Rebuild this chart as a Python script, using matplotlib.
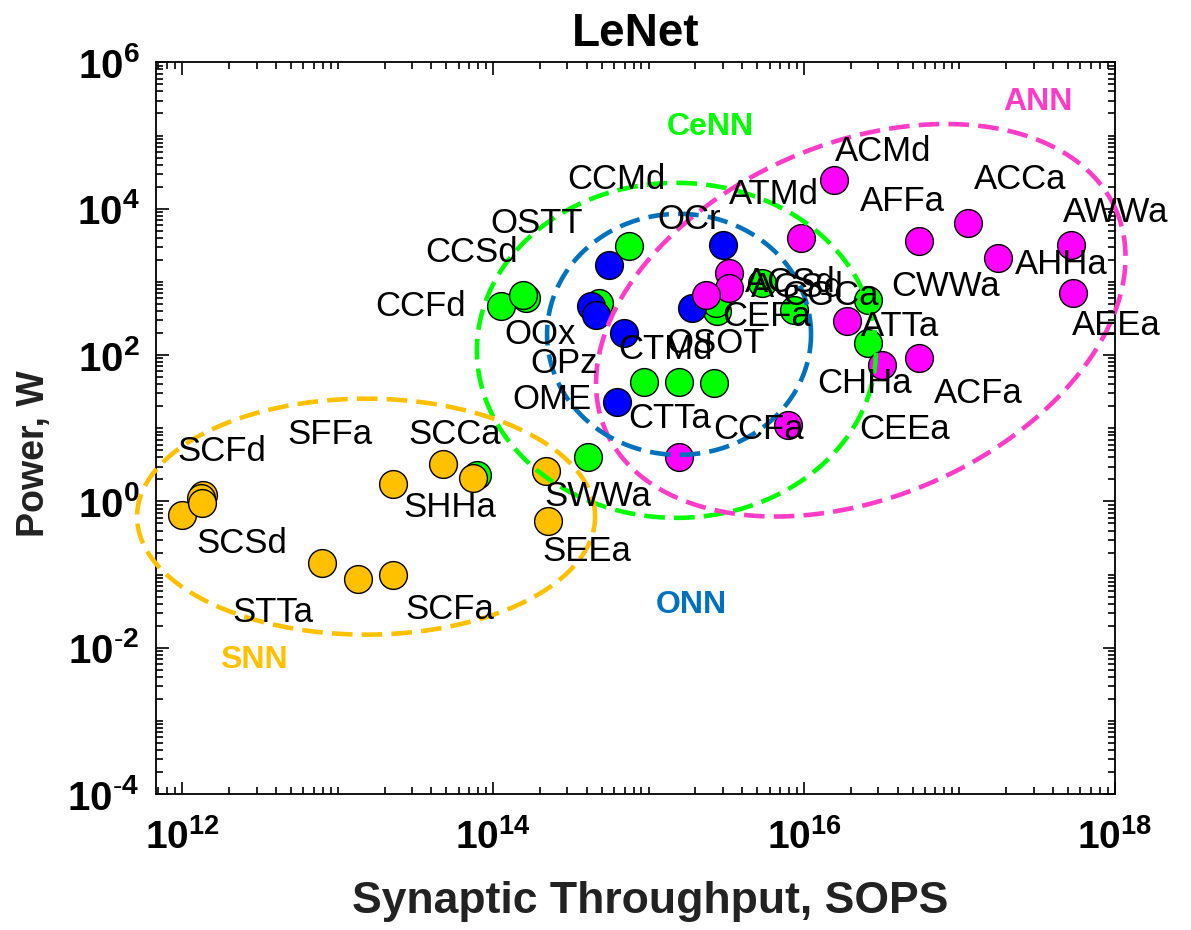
import numpy as np
import matplotlib
matplotlib.use('Agg')
import matplotlib.pyplot as plt
from matplotlib.ticker import LogLocator, NullFormatter

plt.rcParams['font.family'] = ['Liberation Sans', 'DejaVu Sans']
plt.rcParams['mathtext.fontset'] = 'custom'
plt.rcParams['mathtext.rm'] = 'Liberation Sans'
plt.rcParams['mathtext.bf'] = 'Liberation Sans:bold'

# CeNN designs (synaptic ops/s, watts)
cenn_sops = [1.13e14, 1.63e14, 1.55e14, 7.5e14, 4.8e14, 9.3e14, 1.57e15, 2.64e15,
             4.06e14, 2.77e15, 2.7e15, 5.4e15, 8.6e15, 2.6e16, 2.6e16, 7.9e13]
cenn_power = [461, 602, 660, 3050, 511, 43.5, 43.5, 41.6,
              4.1, 394, 512, 960, 415, 570, 146, 2.3]

# SNN designs
snn_sops = [1.0e12, 1.36e12, 1.32e12, 1.34e12, 7.9e12, 1.35e13, 2.27e13, 2.27e13,
            4.75e13, 7.4e13, 2.2e14, 2.25e14]
snn_power = [0.66, 1.23, 1.1, 0.96, 0.145, 0.088, 0.10, 1.75,
             3.2, 2.1, 2.57, 0.54]

# ONN designs
onn_sops = [5.6e14, 4.27e14, 4.6e14, 6.97e14, 6.3e14, 2.99e15, 1.9e15]
onn_power = [1714, 461, 355, 200, 23, 3210, 439]

# ANN designs
ann_sops = [1.55e16, 9.5e15, 3.3e15, 3.3e15, 2.33e15, 7.9e15, 1.57e15, 1.9e16,
            5.46e16, 1.14e17, 1.78e17, 5.25e17, 5.4e17, 3.2e16, 5.46e16]
ann_power = [24800, 3960, 1318, 822, 663, 11.2, 4.1, 290,
             3570, 6300, 2110, 3210, 703, 73.6, 91]

# design names and where their text sits
names = ['SCFd', 'SFFa', 'SCCa', 'SHHa', 'SCSd', 'STTa', 'SCFa', 'SWWa', 'SEEa',
         'CCMd', 'CCSd', 'CCFd', 'CTMd', 'CTTa', 'CCFa', 'CWWa', 'CHHa', 'CEEa', 'CEFa', 'CGCa',
         'OSTT', 'OCr', 'OOx', 'OPz', 'OME', 'OSOT',
         'ACMd', 'ATMd', 'AFFa', 'ACCa', 'AWWa', 'AHHa', 'ATTa', 'ACFa', 'AEEa', 'ACSd', 'AGSd']
name_x = [1.8e12, 8.9e12, 5.65e13, 5.25e13, 2.4e12, 3.84e12, 5.25e13, 4.7e14, 4.0e14,
          6.2e14, 7.3e13, 3.4e13, 1.29e15, 1.36e15, 5.1e15, 8.1e16, 2.44e16, 4.47e16, 5.75e15, 1.48e16,
          1.89e14, 1.82e15, 1.99e14, 2.87e14, 2.4e14, 2.7e15,
          3.25e16, 6.4e15, 4.27e16, 2.45e17, 1.02e18, 4.5e17, 4.17e16, 1.32e17, 1.02e18, 8.2e15, 9.1e15]
name_y = [4.8, 8.1, 8.1, 0.82, 0.27, 0.030, 0.033, 1.16, 0.21,
          2.5e4, 2500, 457, 118, 13.8, 9.5, 865, 41.4, 9.5, 333, 646,
          6350, 7050, 189, 77.8, 24.5, 146,
          6.0e4, 1.55e4, 1.25e4, 2.5e4, 8800, 1714, 246, 30.2, 251, 973, 830]

# family groupings: name, colour, label position, ellipse centre
groups = ['CeNN', 'ANN', 'ONN', 'SNN']
group_colors = ['#00FF00', '#FF3CC8', '#0072BD', '#FFC000']
group_label_x = [2.5e15, 3.2e17, 1.88e15, 2.9e12]
group_label_y = [1.3e5, 2.9e5, 0.039, 0.0069]
ring_x = [1.51e15, 2.32e16, 1.57e15, 1.52e13]
ring_y = [116, 299, 192, 0.62]


def draw_ring(ax, cx, cy, w, h, angle, color):
    # ellipse built in screen pixels so it looks round on the log-log axes
    x0, y0 = ax.transData.transform((cx, cy))
    t = np.linspace(0, 2 * np.pi, 400)
    a = np.deg2rad(angle)
    px = x0 + w * np.cos(t) * np.cos(a) - h * np.sin(t) * np.sin(a)
    py = y0 + w * np.cos(t) * np.sin(a) + h * np.sin(t) * np.cos(a)
    xy = ax.transData.inverted().transform(np.column_stack([px, py]))
    ax.plot(xy[:, 0], xy[:, 1], color=color, lw=3.3, ls=(0, (4.5, 2)),
            clip_on=False, zorder=3)


def pow_label(e):
    # bold 10^e with a short hyphen for negative exponents
    if e < 0:
        return r'$\mathbf{10^{\text{-}%d}}$' % (-e)
    return r'$\mathbf{10^{%d}}$' % e


fig = plt.figure(figsize=(11.91, 9.30), dpi=100)
ax = fig.add_subplot(111)
plt.subplots_adjust(left=0.131, right=0.936, top=0.933, bottom=0.146)
ax.set_xscale('log')
ax.set_yscale('log')
ax.set_xlim(10 ** 11.83, 1e18)
ax.set_ylim(1e-4, 1e6)

mk = dict(s=400, edgecolors='black', linewidths=1.0, zorder=2)
ax.scatter(cenn_sops, cenn_power, c='#00FF00', **mk)
ax.scatter(snn_sops, snn_power, c='#FFC000', **mk)
ax.scatter(onn_sops, onn_power, c='#0000FF', **mk)
ax.scatter(ann_sops, ann_power, c='#FF00FF', **mk)

# pixel half-widths, half-heights and tilt of each family ellipse
ring_shape = [(199.5, 167.5, 0), (278, 177, 23.3), (132, 120.5, 0), (229, 118, 0)]
for i, g in enumerate(groups):
    w, h, ang = ring_shape[i]
    draw_ring(ax, ring_x[i], ring_y[i], w, h, ang, group_colors[i])
    ax.text(group_label_x[i], group_label_y[i], g, color=group_colors[i],
            fontsize=23, fontweight='bold', ha='center', va='center', zorder=4)

for n, x, y in zip(names, name_x, name_y):
    ax.text(x, y, n, fontsize=25, ha='center', va='center', zorder=4)

x_exp = [12, 14, 16, 18]
y_exp = [-4, -2, 0, 2, 4, 6]
ax.set_xticks([10.0 ** e for e in x_exp])
ax.set_xticklabels([pow_label(e) for e in x_exp])
ax.set_yticks([10.0 ** e for e in y_exp])
ax.set_yticklabels([pow_label(e) for e in y_exp])
for axis in (ax.xaxis, ax.yaxis):
    axis.set_minor_locator(LogLocator(base=10, subs=np.arange(1, 10), numticks=100))
    axis.set_minor_formatter(NullFormatter())
ax.tick_params(which='both', direction='in', top=True, right=True, width=1.2)
ax.tick_params(which='major', length=9, labelsize=28)
ax.tick_params(which='minor', length=5)
ax.tick_params(axis='x', pad=18)
ax.tick_params(axis='y', pad=12, labelsize=29)
for sp in ax.spines.values():
    sp.set_linewidth(1.3)

ax.set_xlabel('Synaptic Throughput, SOPS', fontsize=32, fontweight='bold', color='#222222')
ax.set_ylabel('Power, W', fontsize=27, fontweight='bold', color='#222222')
ax.xaxis.set_label_coords(0.515, -0.118)
ax.yaxis.set_label_coords(-0.108, 0.465)
ax.set_title('LeNet', fontsize=33, fontweight='bold', pad=12)

plt.savefig('out.png', dpi=100)
